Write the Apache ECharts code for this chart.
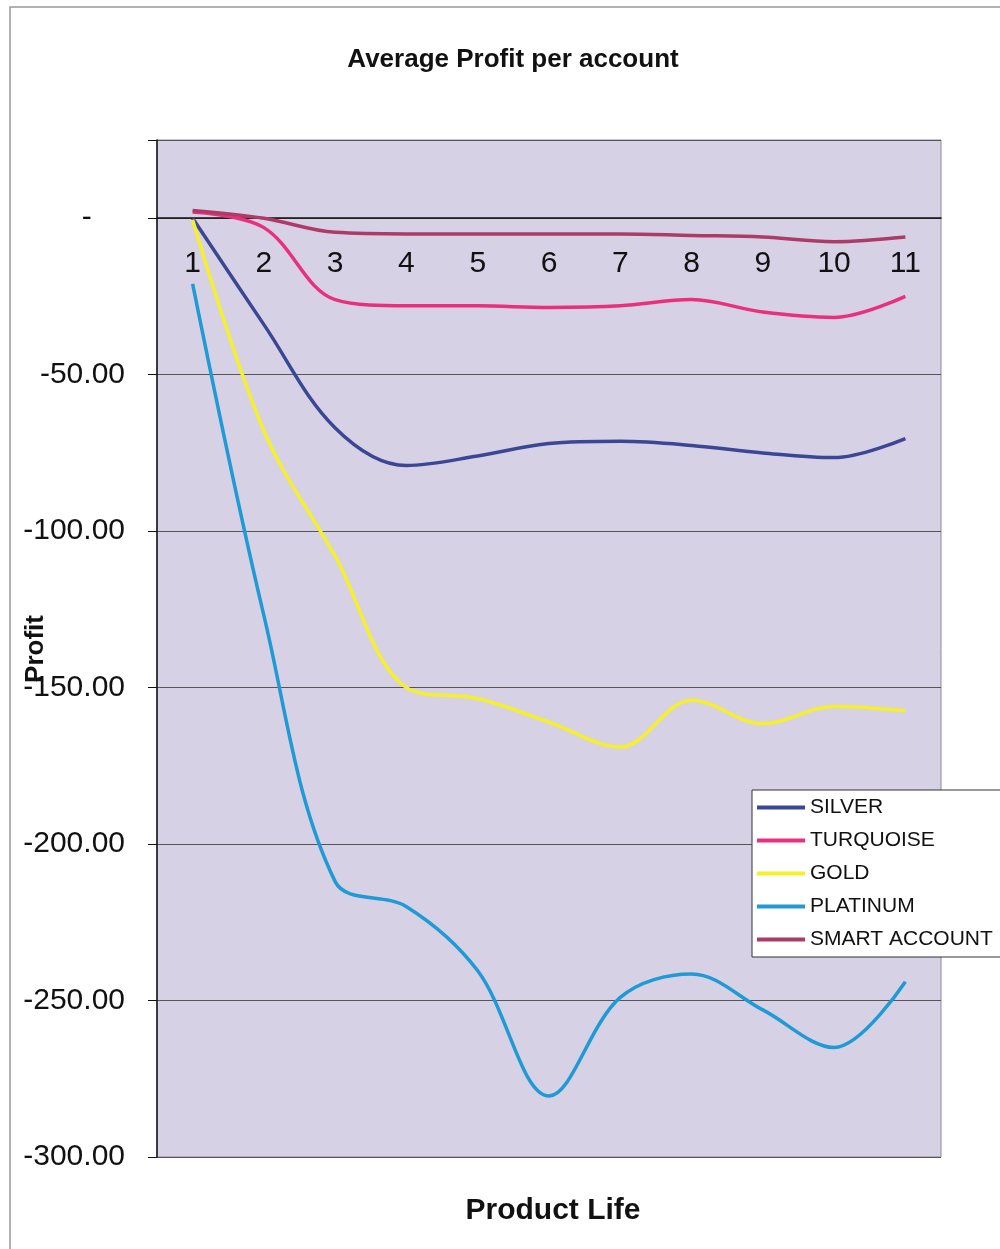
<!DOCTYPE html>
<html lang="en">
<head>
    <meta charset="UTF-8">
    <title>Average Profit per account</title>
    <script src="https://cdn.jsdelivr.net/npm/echarts@6/dist/echarts.min.js"></script>
    <style>
        html, body { margin: 0; padding: 0; background: #fff; }
        #main { width: 1000px; height: 1249px; }
    </style>
</head>
<body>
<div id="main"></div>
<script>
    // product life periods
    var periods = ['1', '2', '3', '4', '5', '6', '7', '8', '9', '10', '11'];

    var silver     = [0, -34, -67, -79, -76, -72, -71.3, -72.6, -75, -76.5, -70.4];
    var turquoise  = [2, -3, -26, -28, -28, -28.5, -28, -26, -30, -31.7, -25];
    var gold       = [-0.5, -68, -108, -150, -153.5, -161, -169, -154, -161.5, -156, -157.4];
    var platinum   = [-21, -127, -212, -220, -240.5, -280.5, -249, -241.5, -253, -265, -244];
    var smartAcct  = [2.5, 0, -4.5, -5, -5, -5, -5, -5.5, -6, -7.5, -6];

    var seriesNames = ['SILVER', 'TURQUOISE', 'GOLD', 'PLATINUM', 'SMART ACCOUNT'];
    var seriesColors = ['#3b4795', '#ea2f7c', '#f4f02a', '#1f9ad4', '#ad3b68'];
    var seriesData = [silver, turquoise, gold, platinum, smartAcct];

    var yMin = -300, yMax = 25;
    var gridTop = 140, gridBottom = 92, chartH = 1249;

    var myChart = echarts.init(document.getElementById('main'));

    var series = [];
    for (var i = 0; i < seriesNames.length; i++) {
        series.push({
            name: seriesNames[i],
            type: 'line',
            data: seriesData[i],
            smooth: 0.35,
            showSymbol: false,
            symbol: 'none',
            lineStyle: {color: seriesColors[i], width: 3.5},
            itemStyle: {color: seriesColors[i]}
        });
    }

    // the category axis sits on the zero line, labels just under it
    var plotH = chartH - gridTop - gridBottom;
    var zeroOffset = -plotH * (0 - yMin) / (yMax - yMin);

    myChart.setOption({
        animation: false,
        textStyle: {fontFamily: 'Liberation Sans, Arial, sans-serif'},
        title: [{
            text: 'Average Profit per account',
            left: 508,
            top: 42,
            textAlign: 'center',
            textStyle: {fontSize: 26, fontWeight: 'bold', color: '#111'}
        }, {
            text: 'Product Life',
            left: 548,
            top: 1191,
            textAlign: 'center',
            textStyle: {fontSize: 30, fontWeight: 'bold', color: '#111'}
        }],
        legend: {
            orient: 'vertical',
            left: 752,
            top: 790,
            data: seriesNames,
            icon: 'rect',
            itemWidth: 48,
            itemHeight: 4,
            itemGap: 12,
            padding: [7, 40, 7, 5],
            backgroundColor: '#fff',
            borderColor: '#333',
            borderWidth: 1,
            textStyle: {fontSize: 21, color: '#111'}
        },
        grid: {
            left: 157,
            right: 59,
            top: gridTop,
            bottom: gridBottom,
            containLabel: false,
            outerBoundsMode: 'none',
            show: true,
            backgroundColor: '#d7d1e6',
            borderColor: '#8c8c8c',
            borderWidth: 1
        },
        xAxis: {
            type: 'category',
            data: periods,
            position: 'bottom',
            offset: zeroOffset,
            axisLine: {onZero: false, lineStyle: {color: '#111', width: 1.5}},
            axisTick: {inside: true, length: 6, lineStyle: {color: '#111'}},
            axisLabel: {fontSize: 30, color: '#111', margin: 31}
        },
        yAxis: {
            type: 'value',
            min: yMin,
            max: yMax,
            interval: 50,
            axisLine: {show: true, lineStyle: {color: '#111', width: 1.5}},
            axisTick: {show: true, length: 9, lineStyle: {color: '#111'}},
            axisLabel: {
                fontSize: 30,
                color: '#111',
                margin: 32,
                formatter: function (v) {
                    if (v % 50 !== 0) return '';
                    if (v === 0) return '-    ';
                    return v.toFixed(2);
                }
            },
            splitLine: {show: true, lineStyle: {color: '#555', width: 1}}
        },
        graphic: [{
            type: 'rect',
            shape: {x: 10, y: 7, width: 1000, height: 1260},
            style: {fill: 'none', stroke: '#999', lineWidth: 1.5},
            silent: true,
            z: -10
        }, {
            // y axis title, reads bottom to top
            type: 'text',
            x: 36,
            y: 649,
            rotation: Math.PI / 2,
            style: {
                text: 'Profit',
                fontSize: 26,
                fontWeight: 'bold',
                fontFamily: 'Liberation Sans, Arial, sans-serif',
                fill: '#111',
                align: 'center',
                verticalAlign: 'middle'
            },
            z: 10
        }],
        series: series
    });
</script>
</body>
</html>
